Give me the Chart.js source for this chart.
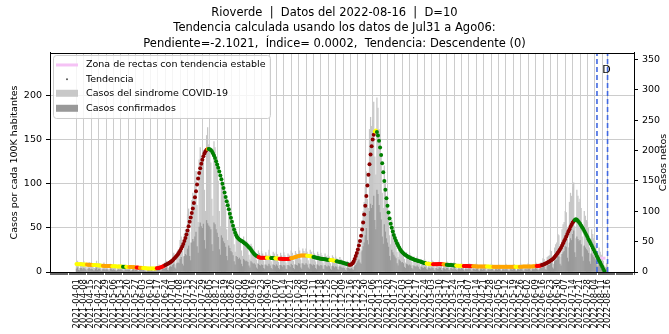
<!DOCTYPE html>
<html><head><meta charset="utf-8">
<script src="https://cdn.jsdelivr.net/npm/chart.js@4.4.1/dist/chart.umd.min.js"></script>
<style>html,body{margin:0;padding:0;background:#fff;overflow:hidden}</style>
</head><body>
<canvas id="c" width="669" height="334"></canvas>
<script>
// ---------------- DATA ----------------
const tickLabels = [
 '2021-04-01','2021-04-08','2021-04-15','2021-04-22','2021-04-29','2021-05-06','2021-05-13','2021-05-20','2021-05-27',
 '2021-06-03','2021-06-10','2021-06-17','2021-06-24','2021-07-01','2021-07-08','2021-07-15','2021-07-22','2021-07-29',
 '2021-08-05','2021-08-12','2021-08-19','2021-08-26','2021-09-02','2021-09-09','2021-09-16','2021-09-23','2021-09-30',
 '2021-10-07','2021-10-14','2021-10-21','2021-10-28','2021-11-04','2021-11-11','2021-11-18','2021-11-25','2021-12-02',
 '2021-12-09','2021-12-16','2021-12-23','2021-12-30','2022-01-06','2022-01-13','2022-01-20','2022-01-27','2022-02-03',
 '2022-02-10','2022-02-17','2022-02-24','2022-03-03','2022-03-10','2022-03-17','2022-03-24','2022-03-31','2022-04-07',
 '2022-04-14','2022-04-21','2022-04-28','2022-05-05','2022-05-12','2022-05-19','2022-05-26','2022-06-02','2022-06-09',
 '2022-06-16','2022-06-23','2022-06-30','2022-07-07','2022-07-14','2022-07-21','2022-07-28','2022-08-04','2022-08-11',
 '2022-08-16'];
const leftTicks = [0, 50, 100, 150, 200];
const rightTicks = [0, 50, 100, 150, 200, 250, 300, 350];

// Trend (cases per 100K), one value per day from 2021-04-01
const trend = [
 9.0,8.9,8.9,8.8,8.8,8.7,8.6,8.6,8.5,8.5, 8.4,8.3,8.3,8.2,8.1,8.0,7.9,7.8,7.8,7.7,
 7.6,7.5,7.4,7.3,7.2,7.1,7.0,6.9,6.9,6.8, 6.7,6.7,6.6,6.6,6.5,6.5,6.4,6.4,6.3,6.3,
 6.2,6.2,6.1,6.1,6.0,6.0,5.9,5.9,5.8,5.8, 5.7,5.7,5.6,5.5,5.4,5.3,5.2,5.1,5.0,4.9,
 4.8,4.7,4.6,4.5,4.4,4.3,4.2,4.1,4.0,4.0, 3.9,3.9,3.9,3.9,4.0,4.1,4.2,4.4,4.6,5.0,
 5.5,6.0,6.6,7.2,7.8,8.4,9.1,9.8,10.6,11.4, 12.3,13.4,14.6,15.9,17.2,18.6,20.2,22.0,24.0,26.2,
 28.8,31.8,35.0,38.6,42.6,47.0,51.8,56.8,61.8,66.8, 72.0,78.0,84.5,91.5,99.0,106.0,112.0,117.5,122.5,127.0,
 131.0,134.3,136.8,138.4,139.2,139.4,139.0,138.0,136.6,134.5, 132.0,129.0,125.5,121.8,118.0,113.8,109.4,105.0,100.0,95.0,
 90.0,85.0,80.0,75.5,71.0,66.0,61.5,57.0,52.5,48.2, 44.5,41.5,39.3,37.8,36.8,36.0,35.2,34.4,33.5,32.6,
 31.6,30.5,29.3,28.0,26.8,25.2,23.5,21.8,20.4,19.3, 18.4,17.6,17.0,16.5,16.2,16.0,16.0,16.0,16.1,16.2,
 16.2,16.2,16.1,16.0,15.9,15.8,15.7,15.6,15.5,15.4, 15.3,15.2,15.1,15.0,14.9,14.8,14.7,14.6,14.6,14.6,
 14.7,14.9,15.2,15.5,15.8,16.2,16.6,17.0,17.4,17.8, 18.1,18.4,18.6,18.7,18.8,18.8,18.8,18.7,18.5,18.3,
 18.1,17.9,17.7,17.4,17.1,16.8,16.5,16.2,15.9,15.6, 15.3,15.1,14.9,14.7,14.5,14.3,14.1,14.0,13.8,13.7,
 13.6,13.4,13.2,13.0,12.8,12.5,12.2,11.9,11.6,11.3, 11.0,10.7,10.4,10.0,9.6,9.2,8.8,8.5,8.3,8.3,
 8.8,10.0,12.0,14.8,18.0,21.5,25.5,30.0,35.0,41.0, 48.0,56.0,65.0,75.0,86.0,98.0,110.0,122.0,133.0,142.5,
 150.0,155.5,159.0,160.2,158.5,154.5,148.5,141.0,132.5,123.0, 113.0,103.0,93.0,83.5,75.0,67.5,60.5,54.5,50.0,45.8,
 42.0,38.6,35.5,32.6,30.0,27.6,25.5,23.8,22.4,21.2, 20.1,19.2,18.4,17.6,16.9,16.3,15.7,15.2,14.7,14.2,
 13.7,13.3,12.9,12.5,12.1,11.8,11.4,11.0,10.6,10.3, 10.0,9.7,9.4,9.2,9.1,9.0,8.9,8.9,8.9,8.9,
 8.9,8.9,9.0,9.0,9.0,8.9,8.8,8.7,8.6,8.5, 8.3,8.2,8.0,7.9,7.8,7.7,7.6,7.5,7.4,7.3,
 7.2,7.1,7.0,7.0,7.0,6.9,6.9,6.8,6.8,6.7, 6.7,6.6,6.6,6.5,6.5,6.4,6.4,6.4,6.3,6.3,
 6.3,6.3,6.2,6.2,6.2,6.2,6.1,6.1,6.1,6.1, 6.1,6.0,6.0,6.0,6.0,6.0,6.0,6.0,6.0,6.0,
 6.0,6.0,6.0,6.0,6.0,6.0,6.0,6.0,6.0,6.0, 6.0,6.0,6.0,6.0,6.0,6.0,6.0,6.0,6.0,6.0,
 6.0,6.0,6.1,6.1,6.1,6.1,6.2,6.2,6.2,6.2, 6.3,6.3,6.4,6.5,6.6,6.7,6.8,7.0,7.2,7.5,
 7.8,8.2,8.8,9.4,10.0,10.6,11.2,11.8,12.6,13.5, 14.5,15.7,17.0,18.5,20.0,21.7,23.5,25.5,27.5,30.0,
 32.5,35.0,37.5,40.2,43.0,45.8,48.5,51.2,53.5,55.8, 57.5,59.0,59.8,59.2,57.8,56.3,54.6,52.7,50.7,48.6,
 46.4,44.1,41.8,39.5,37.1,34.7,32.3,29.9,27.5,25.1, 22.7,20.3,17.9,15.5,13.1,10.7,8.3,5.9,3.5,1.2,
 null,null,null];

// Trend classification runs: [first day, class]  Y=estable O=leve R=ascendente D=ascendente fuerte G=descendente
const trendClass = [[0,'Y'],[10,'O'],[16,'Y'],[25,'O'],[34,'Y'],[44,'G'],[47,'Y'],[50,'O'],[57,'R'],[60,'O'],[63,'Y'],
 [76,'R'],[84,'D'],[124,'O'],[125,'G'],[172,'R'],[180,'Y'],[184,'G'],[188,'Y'],[192,'R'],[203,'O'],[218,'Y'],[224,'G'],
 [240,'Y'],[246,'G'],[258,'D'],[282,'Y'],[284,'G'],[331,'Y'],[337,'R'],[347,'O'],[350,'G'],[359,'Y'],[366,'R'],[375,'O'],
 [388,'Y'],[394,'O'],[415,'Y'],[419,'O'],[435,'R'],[440,'D'],[471,'G']];

// Daily net cases (syndrome COVID-19), one week per row, starting 2021-04-01
const sindrome = [
 14,18,9,6,16,15,12, 17,13,8,5,14,16,11, 15,12,7,6,13,18,10, 13,14,6,4,12,15,9, 12,11,5,4,13,12,10,
 11,10,6,3,10,12,8, 12,9,5,3,11,10,9, 10,9,4,3,9,11,7, 9,8,4,2,8,9,7, 8,7,3,2,7,8,6,
 7,8,3,2,8,9,7, 10,12,5,3,11,13,12, 16,18,9,6,19,21,20, 28,31,17,12,33,36,35, 52,58,34,25,63,70,68,
 95,104,66,48,118,130,125, 150,166,110,82,185,205,190, 185,200,135,100,225,238,210, 195,180,120,92,215,205,185, 170,150,100,75,160,150,135,
 125,110,70,52,115,105,92, 85,72,45,33,70,64,58, 62,55,35,26,58,52,48, 50,44,28,20,46,42,36, 38,33,20,14,35,31,27,
 34,30,18,12,32,28,26, 36,28,17,12,33,30,25, 33,29,16,11,31,27,24, 32,27,15,11,30,28,23, 35,31,18,12,34,30,27,
 40,35,20,14,38,34,30, 38,33,19,13,36,33,28, 34,30,17,12,33,29,25, 31,27,15,10,30,26,23, 28,25,14,9,27,24,21,
 25,22,12,8,24,21,18, 19,17,9,6,18,16,14, 14,16,10,8,24,30,36, 42,50,38,32,85,100,115, 140,165,120,105,235,255,240,
 250,280,190,160,287,270,235, 215,190,130,105,175,150,125, 110,95,60,45,85,75,65, 60,52,33,24,48,42,37, 40,35,21,15,32,29,26,
 31,27,16,11,25,22,20, 25,22,13,9,21,18,16, 21,18,10,7,17,15,13, 19,17,9,6,16,14,13, 19,16,9,6,15,14,12,
 17,15,8,5,15,13,11, 16,14,7,5,13,12,11, 15,13,7,4,12,11,10, 14,13,6,4,12,11,9, 14,12,6,4,11,10,9,
 13,11,6,3,11,10,9, 13,12,5,3,11,10,8, 12,11,6,3,10,11,9, 13,11,5,3,11,10,8, 12,12,6,3,10,10,9,
 13,11,6,4,11,10,9, 14,12,6,4,11,11,10, 16,14,7,5,14,15,15, 22,21,11,8,24,26,27, 36,34,18,13,40,45,48,
 62,60,32,24,70,78,82, 100,98,55,40,115,130,125, 140,147,75,55,135,125,115, 120,105,58,42,100,92,85, 82,72,40,30,70,62,55,
 50,44,24,18,40,33,28, 22,18,10,8,14,9];

// Daily confirmed cases
const confirmados = [
 5,7,3,2,6,6,4, 6,5,3,1,5,6,4, 5,4,2,2,5,7,3, 5,5,2,1,4,5,3, 4,4,2,1,5,4,3,
 4,3,2,1,3,4,3, 4,3,2,1,4,3,3, 3,3,1,1,3,4,2, 3,3,1,1,3,3,2, 3,2,1,0,2,3,2,
 2,3,1,1,3,3,2, 4,5,2,1,4,5,5, 6,7,3,2,8,9,8, 11,13,7,5,14,15,14, 21,24,13,10,26,29,27,
 38,43,26,19,48,54,50, 58,66,42,31,74,81,75, 72,79,52,38,85,80,76, 74,70,45,34,81,78,70, 64,57,37,28,60,56,50,
 47,41,26,19,43,39,34, 32,27,17,12,26,24,21, 23,20,13,9,21,19,17, 18,16,10,7,17,15,13, 14,12,7,5,13,11,10,
 12,11,6,4,12,10,9, 13,10,6,4,12,11,9, 12,10,6,4,11,10,8, 11,10,5,4,11,10,8, 13,11,6,4,12,11,10,
 14,13,7,5,14,12,11, 14,12,7,5,13,12,10, 12,11,6,4,12,10,9, 11,10,5,4,11,9,8, 10,9,5,3,10,9,7,
 9,8,4,3,9,8,6, 7,6,3,2,7,6,5, 5,6,4,3,9,11,14, 17,20,15,13,35,42,48, 60,72,52,45,100,112,105,
 110,125,85,70,135,128,110, 98,86,58,46,78,66,55, 48,41,26,19,36,32,28, 25,22,14,10,20,18,15, 16,14,8,6,13,12,10,
 12,10,6,4,10,9,8, 10,8,5,3,8,7,6, 8,7,4,3,7,6,5, 7,6,3,2,6,5,5, 7,6,3,2,6,5,4,
 6,6,3,2,6,5,4, 6,5,3,2,5,5,4, 6,5,3,1,5,4,4, 5,5,2,1,5,4,3, 5,5,2,1,4,4,3,
 5,4,2,1,4,4,3, 5,5,2,1,4,4,3, 5,4,2,1,4,4,3, 5,4,2,1,4,4,3, 5,5,2,1,4,4,3,
 5,4,2,1,4,4,3, 5,5,2,1,4,4,4, 6,5,3,2,5,6,6, 9,8,4,3,10,11,11, 15,14,7,5,17,19,20,
 26,25,13,10,29,32,34, 42,41,23,17,48,55,52, 62,68,32,24,58,54,50, 52,45,25,18,43,40,37, 35,31,17,13,30,27,24,
 22,19,10,8,17,14,12, 9,8,4,3,6,4];

const stableZone = [[494, 15.6], [500, 15.6]];   // pink segment (day, value per 100K)
const cutoffDays = [492, 502];                   // dashed reference lines (D=10)
const xRange = [-25, 527];
const leftMax = 248, rightMax = 361;

// ---------------- CHART ----------------
const F = "'DejaVu Sans', 'Liberation Sans', sans-serif";
const classColors = {Y:'#ffff00', O:'#ffa500', R:'#ff0000', D:'#8b0000', G:'#008000'};
function classAt(i){ let c = 'Y'; for (const [s,k] of trendClass){ if (i >= s) c = k; else break; } return c; }
const day0 = Date.parse(tickLabels[0] + 'T00:00:00Z');
const labelDays = tickLabels.map(l => Math.round((Date.parse(l + 'T00:00:00Z') - day0) / 864e5));
const labelMap = new Map(labelDays.map((d, i) => [d, tickLabels[i]]));
const dayTicks = []; for (let d = xRange[0]; d <= xRange[1]; d++) dayTicks.push(d);

const framePlugin = {
  id: 'frame',
  afterDatasetsDraw(chart){
    const {ctx, chartArea:a} = chart;
    ctx.save(); ctx.strokeStyle = '#000'; ctx.lineWidth = 1;
    ctx.beginPath(); ctx.moveTo(a.left, Math.round(a.top)+0.5); ctx.lineTo(a.right, Math.round(a.top)+0.5); ctx.stroke();
    const xs = chart.scales.x, ys = chart.scales.y;
    ctx.fillStyle = '#000'; ctx.font = `11px ${F}`; ctx.textAlign = 'center'; ctx.textBaseline = 'middle';
    ctx.fillText('D', xs.getPixelForValue(cutoffDays[1]) - 1, ys.getPixelForValue(229));
    ctx.save(); ctx.translate(663.5, (a.top + a.bottom) / 2); ctx.rotate(-Math.PI/2);
    ctx.font = `9.5px ${F}`; ctx.fillText('Casos netos', 0, 0); ctx.restore();
    ctx.restore();
  }
};

const boxLegend = {
  id: 'boxLegend',
  afterDraw(chart){
    const {ctx, chartArea:a} = chart;
    const ds = chart.data.datasets;
    const x = a.left + 3, y = a.top + 2, w = 217, h = 63;
    ctx.save();
    ctx.beginPath(); ctx.roundRect(x + 0.5, y + 0.5, w, h, 3);
    ctx.fillStyle = 'rgba(255,255,255,0.8)'; ctx.fill();
    ctx.strokeStyle = '#cccccc'; ctx.lineWidth = 1; ctx.stroke();
    const rows = [y + 10, y + 24.3, y + 38.3, y + 53.3];
    const sx = x + 3, sw = 22, tx = x + 33;
    ctx.strokeStyle = ds[1].borderColor; ctx.lineWidth = 3;
    ctx.beginPath(); ctx.moveTo(sx, rows[0]); ctx.lineTo(sx + sw, rows[0]); ctx.stroke();
    ctx.fillStyle = '#555'; ctx.beginPath(); ctx.arc(sx + sw/2, rows[1], 1, 0, Math.PI*2); ctx.fill();
    ctx.fillStyle = '#c8c8c8'; ctx.fillRect(sx, rows[2] - 3.5, sw, 7);
    ctx.fillStyle = '#999999'; ctx.fillRect(sx, rows[3] - 3.5, sw, 7);
    ctx.fillStyle = '#000'; ctx.font = `9.5px ${F}`; ctx.textBaseline = 'middle'; ctx.textAlign = 'left';
    ctx.fillText(ds[1].label, tx, rows[0]);
    ctx.fillText(ds[0].label, tx, rows[1]);
    ctx.fillText(ds[3].label, tx, rows[2]);
    ctx.fillText(ds[2].label, tx, rows[3]);
    ctx.restore();
  }
};

const datasets = [
  { type:'line', label:'Tendencia', data: trend.map((v,i)=>({x:i, y:v})), yAxisID:'y', xAxisID:'x',
    showLine:false, pointRadius:2, pointHoverRadius:0, pointBorderWidth:0,
    pointBackgroundColor: c => classColors[classAt(c.dataIndex)], order:0 },
  { type:'line', label:'Zona de rectas con tendencia estable', data: stableZone.map(([d,v])=>({x:d, y:v})),
    yAxisID:'y', borderColor:'#f5c2f5', borderWidth:3, pointRadius:0, order:1 },
  { type:'bar', label:'Casos confirmados', data: confirmados.map((v,i)=>({x:i, y:v})), yAxisID:'y2', xAxisID:'x',
    backgroundColor:'#9a9a9a', borderWidth:0, barThickness:0.6, grouped:false, order:2 },
  { type:'bar', label:'Casos del sindrome COVID-19', data: sindrome.map((v,i)=>({x:i, y:v})), yAxisID:'y2', xAxisID:'x',
    backgroundColor:'#c6c6c6', borderWidth:0, barThickness:0.6, grouped:false, order:3 },
  ...cutoffDays.map(d => ({ type:'line', label:'corte', data:[{x:d, y:0},{x:d, y:leftMax}], yAxisID:'y',
    borderColor:'#4169e1', borderWidth:1.6, borderDash:[5,3], pointRadius:0, order:1 }))
];

new Chart(document.getElementById('c'), {
  type: 'bar',
  data: { datasets },
  options: {
    responsive:false, animation:false, devicePixelRatio:1,
    layout:{ padding:0 },
    plugins:{
      legend:{ display:false }, tooltip:{ enabled:false },
      title:{ display:true, color:'#000',
        text:['Rioverde  |  Datos del 2022-08-16  |  D=10',
              'Tendencia calculada usando los datos de Jul31 a Ago06:',
              'Pendiente=-2.1021,  Índice= 0.0002,  Tendencia: Descendente (0)'],
        font:{ family:F, size:11.5, weight:'normal', lineHeight:1.35 }, padding:{ top:5, bottom:1.4 } }
    },
    scales:{
      x:{ type:'linear', min:xRange[0], max:xRange[1], offset:false,
        afterBuildTicks: s => { s.ticks = dayTicks.map(v => ({ value:v })); },
        ticks:{ autoSkip:false, minRotation:90, maxRotation:90, color:'#000', padding:4,
          font:{ family:F, size:8.5 }, callback: v => labelMap.get(v) || '' },
        grid:{ offset:false, color: c => (c.tick && labelMap.has(c.tick.value)) ? '#cccccc' : 'rgba(0,0,0,0)',
          tickColor:'#000', tickLength:3, tickWidth:0.6, lineWidth:1 },
        border:{ color:'#000' },
        afterFit: s => { s.height = 62; } },
      y:{ position:'left', min:0, max:leftMax,
        afterBuildTicks: s => { s.ticks = leftTicks.map(v => ({ value:v })); },
        ticks:{ color:'#000', padding:4, font:{ family:F, size:9.5 } },
        grid:{ color:'#cccccc', tickColor:'#000', tickLength:4 },
        border:{ color:'#000' },
        title:{ display:true, text:'Casos por cada 100K habitantes', color:'#000', font:{ family:F, size:9.5 }, padding:{ top:9, bottom:0 } },
        afterFit: s => { s.width = 50; } },
      y2:{ position:'right', min:0, max:rightMax,
        afterBuildTicks: s => { s.ticks = rightTicks.map(v => ({ value:v })); },
        ticks:{ color:'#000', padding:4, font:{ family:F, size:9.5 } },
        grid:{ drawOnChartArea:false, tickColor:'#000', tickLength:4 },
        border:{ color:'#000' },
        afterFit: s => { s.width = 35; } }
    }
  },
  plugins:[framePlugin, boxLegend]
});
</script>
</body></html>
